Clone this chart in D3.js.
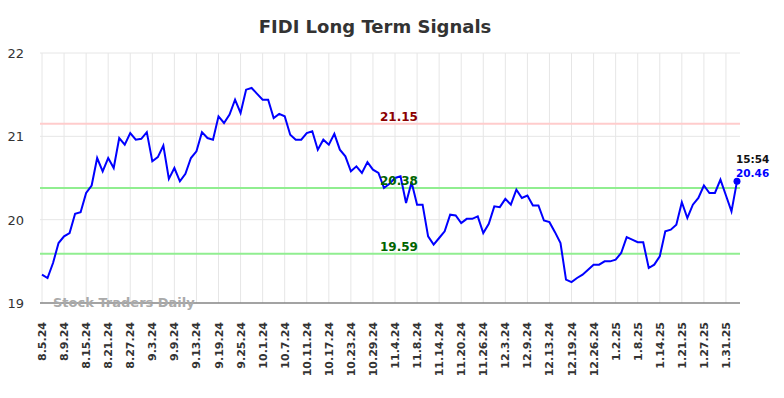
<!DOCTYPE html>
<html>
<head>
<meta charset="utf-8">
<script src="https://cdn.jsdelivr.net/npm/d3@7"></script>
<style>
body { margin: 0; background: #fff; }
text { font-family: "DejaVu Sans", sans-serif; }
</style>
</head>
<body>
<script>
// Closing prices, one per trading day from 8.5.24 to 2.4.25
var prices = [19.34, 19.30, 19.48, 19.72, 19.80, 19.84, 20.07, 20.09, 20.32, 20.41,
	20.74, 20.58, 20.74, 20.62, 20.98, 20.90, 21.04, 20.96, 20.97, 21.05,
	20.70, 20.75, 20.89, 20.49, 20.62, 20.46, 20.55, 20.74, 20.82, 21.05,
	20.98, 20.96, 21.24, 21.16, 21.26, 21.44, 21.28, 21.56, 21.58, 21.51,
	21.44, 21.44, 21.22, 21.27, 21.24, 21.02, 20.96, 20.96, 21.04, 21.06,
	20.84, 20.96, 20.90, 21.03, 20.84, 20.76, 20.58, 20.64, 20.56, 20.69,
	20.60, 20.56, 20.38, 20.43, 20.50, 20.52, 20.20, 20.45, 20.18, 20.18,
	19.80, 19.70, 19.78, 19.86, 20.06, 20.05, 19.96, 20.01, 20.01, 20.04,
	19.84, 19.95, 20.16, 20.15, 20.25, 20.18, 20.36, 20.26, 20.29, 20.17,
	20.17, 19.99, 19.97, 19.85, 19.72, 19.28, 19.25, 19.30, 19.34, 19.40,
	19.46, 19.46, 19.50, 19.50, 19.52, 19.60, 19.79, 19.76, 19.73, 19.73,
	19.42, 19.46, 19.56, 19.86, 19.88, 19.94, 20.21, 20.02, 20.18, 20.26,
	20.41, 20.32, 20.32, 20.48, 20.29, 20.10, 20.46]

// x labels, one every 4 trading days
var tickLabels = ["8.5.24", "8.9.24", "8.15.24", "8.21.24", "8.27.24", "9.3.24", "9.9.24", "9.13.24",
	"9.19.24", "9.25.24", "10.1.24", "10.7.24", "10.11.24", "10.17.24", "10.23.24", "10.29.24",
	"11.4.24", "11.8.24", "11.14.24", "11.20.24", "11.26.24", "12.3.24", "12.9.24", "12.13.24",
	"12.19.24", "12.26.24", "1.2.25", "1.8.25", "1.14.25", "1.21.25", "1.27.25", "1.31.25"]
var tickStep = 4

var yTicks = [19, 20, 21, 22]

// signal levels
var levelValues = [21.15, 20.38, 19.59]
var levelKinds = ["resistance", "support", "support"]

var lastTime = "15:54"

//Width and height
var width = 784
var height = 398

var svg = d3.select("body")
	.append("svg")
	.attr("width", width)
	.attr("height", height)

var x = d3.scaleLinear().domain([0, prices.length - 1]).range([42, 737])
var y = d3.scaleLinear().domain([19, 22]).range([303, 53])
var left = 40, right = 740

// title
svg.append("text")
	.attr("x", 375)
	.attr("y", 33)
	.attr("text-anchor", "middle")
	.attr("font-size", "18px")
	.attr("font-weight", "bold")
	.attr("fill", "#333")
	.text("FIDI Long Term Signals")

// horizontal grid + y labels
svg.selectAll("line.hgrid").data(yTicks).enter().append("line")
	.attr("class", "hgrid")
	.attr("x1", left)
	.attr("x2", right)
	.attr("y1", function(d){ return y(d); })
	.attr("y2", function(d){ return y(d); })
	.attr("stroke", "#e6e6e6")
	.attr("stroke-width", 1)

svg.selectAll("text.ylab").data(yTicks).enter().append("text")
	.attr("class", "ylab")
	.attr("x", 24)
	.attr("y", function(d){ return y(d) + 5; })
	.attr("text-anchor", "end")
	.attr("font-size", "13px")
	.attr("fill", "#333")
	.text(function(d){ return d; })

// vertical grid + x labels
var tickIdx = tickLabels.map(function(d, i){ return i * tickStep; })

svg.selectAll("line.vgrid").data(tickIdx).enter().append("line")
	.attr("class", "vgrid")
	.attr("x1", function(d){ return x(d); })
	.attr("x2", function(d){ return x(d); })
	.attr("y1", y(22))
	.attr("y2", y(19))
	.attr("stroke", "#e6e6e6")
	.attr("stroke-width", 1)

svg.selectAll("text.xlab").data(tickIdx).enter().append("text")
	.attr("class", "xlab")
	.attr("transform", function(d){ return "translate(" + (x(d) + 4) + "," + 322 + ") rotate(-90)"; })
	.attr("text-anchor", "end")
	.attr("font-size", "11px")
	.attr("font-weight", "bold")
	.attr("fill", "#333")
	.text(function(d, i){ return tickLabels[i]; })

// bottom axis line
svg.append("line")
	.attr("x1", left)
	.attr("x2", right)
	.attr("y1", y(19))
	.attr("y2", y(19))
	.attr("stroke", "#555")
	.attr("stroke-width", 1.2)

// watermark
svg.append("text")
	.attr("x", 53)
	.attr("y", 307)
	.attr("font-size", "13px")
	.attr("font-weight", "bold")
	.attr("fill", "#aaa")
	.text("Stock Traders Daily")

// signal lines
svg.selectAll("line.level").data(levelValues).enter().append("line")
	.attr("class", "level")
	.attr("x1", left)
	.attr("x2", right)
	.attr("y1", function(d){ return y(d); })
	.attr("y2", function(d){ return y(d); })
	.attr("stroke", function(d, i){ return levelKinds[i] == "resistance" ? "#ffcccc" : "#90ee90"; })
	.attr("stroke-width", 2)

// price line
var line = d3.line()
	.x(function(d, i){ return x(i); })
	.y(function(d){ return y(d); })

svg.append("path")
	.datum(prices)
	.attr("d", line)
	.attr("fill", "none")
	.attr("stroke", "#0000ff")
	.attr("stroke-width", 2)

svg.selectAll("text.level").data(levelValues).enter().append("text")
	.attr("class", "level")
	.attr("x", 399)
	.attr("y", function(d){ return y(d) - 3; })
	.attr("text-anchor", "middle")
	.attr("font-size", "12px")
	.attr("font-weight", "bold")
	.attr("fill", function(d, i){ return levelKinds[i] == "resistance" ? "#8b0000" : "#006400"; })
	.text(function(d){ return d.toFixed(2); })

// last point
var last = prices.length - 1
svg.append("circle")
	.attr("cx", x(last))
	.attr("cy", y(prices[last]))
	.attr("r", 3.5)
	.attr("fill", "#0000ff")

svg.append("text")
	.attr("x", x(last) - 1)
	.attr("y", 163)
	.attr("font-size", "10.5px")
	.attr("font-weight", "bold")
	.attr("fill", "#111")
	.text(lastTime)

svg.append("text")
	.attr("x", x(last) - 1)
	.attr("y", 176.5)
	.attr("font-size", "10.5px")
	.attr("font-weight", "bold")
	.attr("fill", "#0000ff")
	.text(prices[last].toFixed(2))
</script>
</body>
</html>
